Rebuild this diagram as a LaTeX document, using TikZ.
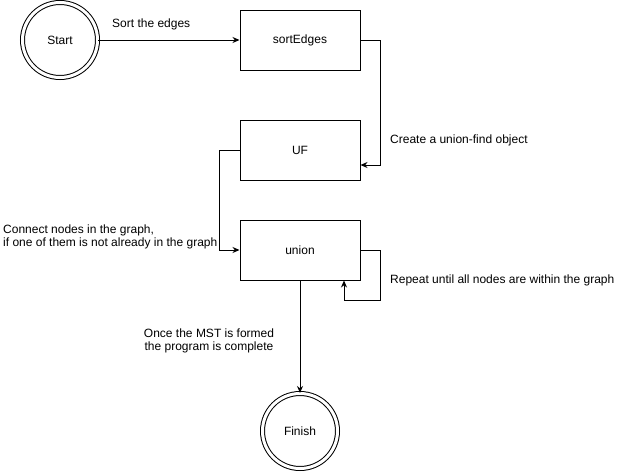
\documentclass[tikz,border=0pt]{standalone}
\usepackage{fontspec}
\setmainfont{Liberation Sans}
\usetikzlibrary{arrows.meta}

\begin{document}
\begin{tikzpicture}[x=1pt,y=1pt,
    every node/.style={font=\fontsize{12}{13}\selectfont},
    state/.style={circle,draw,line width=1pt,double,double distance=3pt,minimum size=75pt},
    func/.style={rectangle,draw,line width=1pt,minimum width=120pt,minimum height=60pt},
    note/.style={inner sep=0pt},
    arrow/.style={line width=1pt,-{Stealth[length=7pt,width=6pt]}}]
\useasboundingbox (0,0) rectangle (628,-471);
% Nodes
\node[state] (start) at (60,-40) {Start};
\node[func] (sort) at (300,-40) {sortEdges};
\node[func] (uf) at (300,-150) {UF};
\node[func] (union) at (300,-250) {union};
\node[state] (finish) at (300,-431) {Finish};
% Labels
\node[note,anchor=west] (lsort) at (112,-24) {Sort the edges};
\node[note,anchor=west] (luf) at (390,-140) {Create a union-find object};
\node[note,anchor=west,align=left] (lconnect) at (3,-237) {Connect nodes in the graph,\\if one of them is not already in the graph};
\node[note,anchor=west] (lrepeat) at (390,-280) {Repeat until all nodes are within the graph};
\node[note,align=center] (lmst) at (209,-341) {Once the MST is formed\\the program is complete};
% Connectors
\draw[arrow] (start) -- (sort);
\draw[arrow] (sort.east) -- ++(20,0) |- ([yshift=-15]uf.east);
\draw[arrow] (uf.west) -- ++(-20,0) |- (union.west);
\draw[arrow] (union.east) -- ++(20,0) -- ++(0,-50) -| ([xshift=44]union.south);
\draw[arrow] (union) -- (finish);
\end{tikzpicture}
\end{document}
